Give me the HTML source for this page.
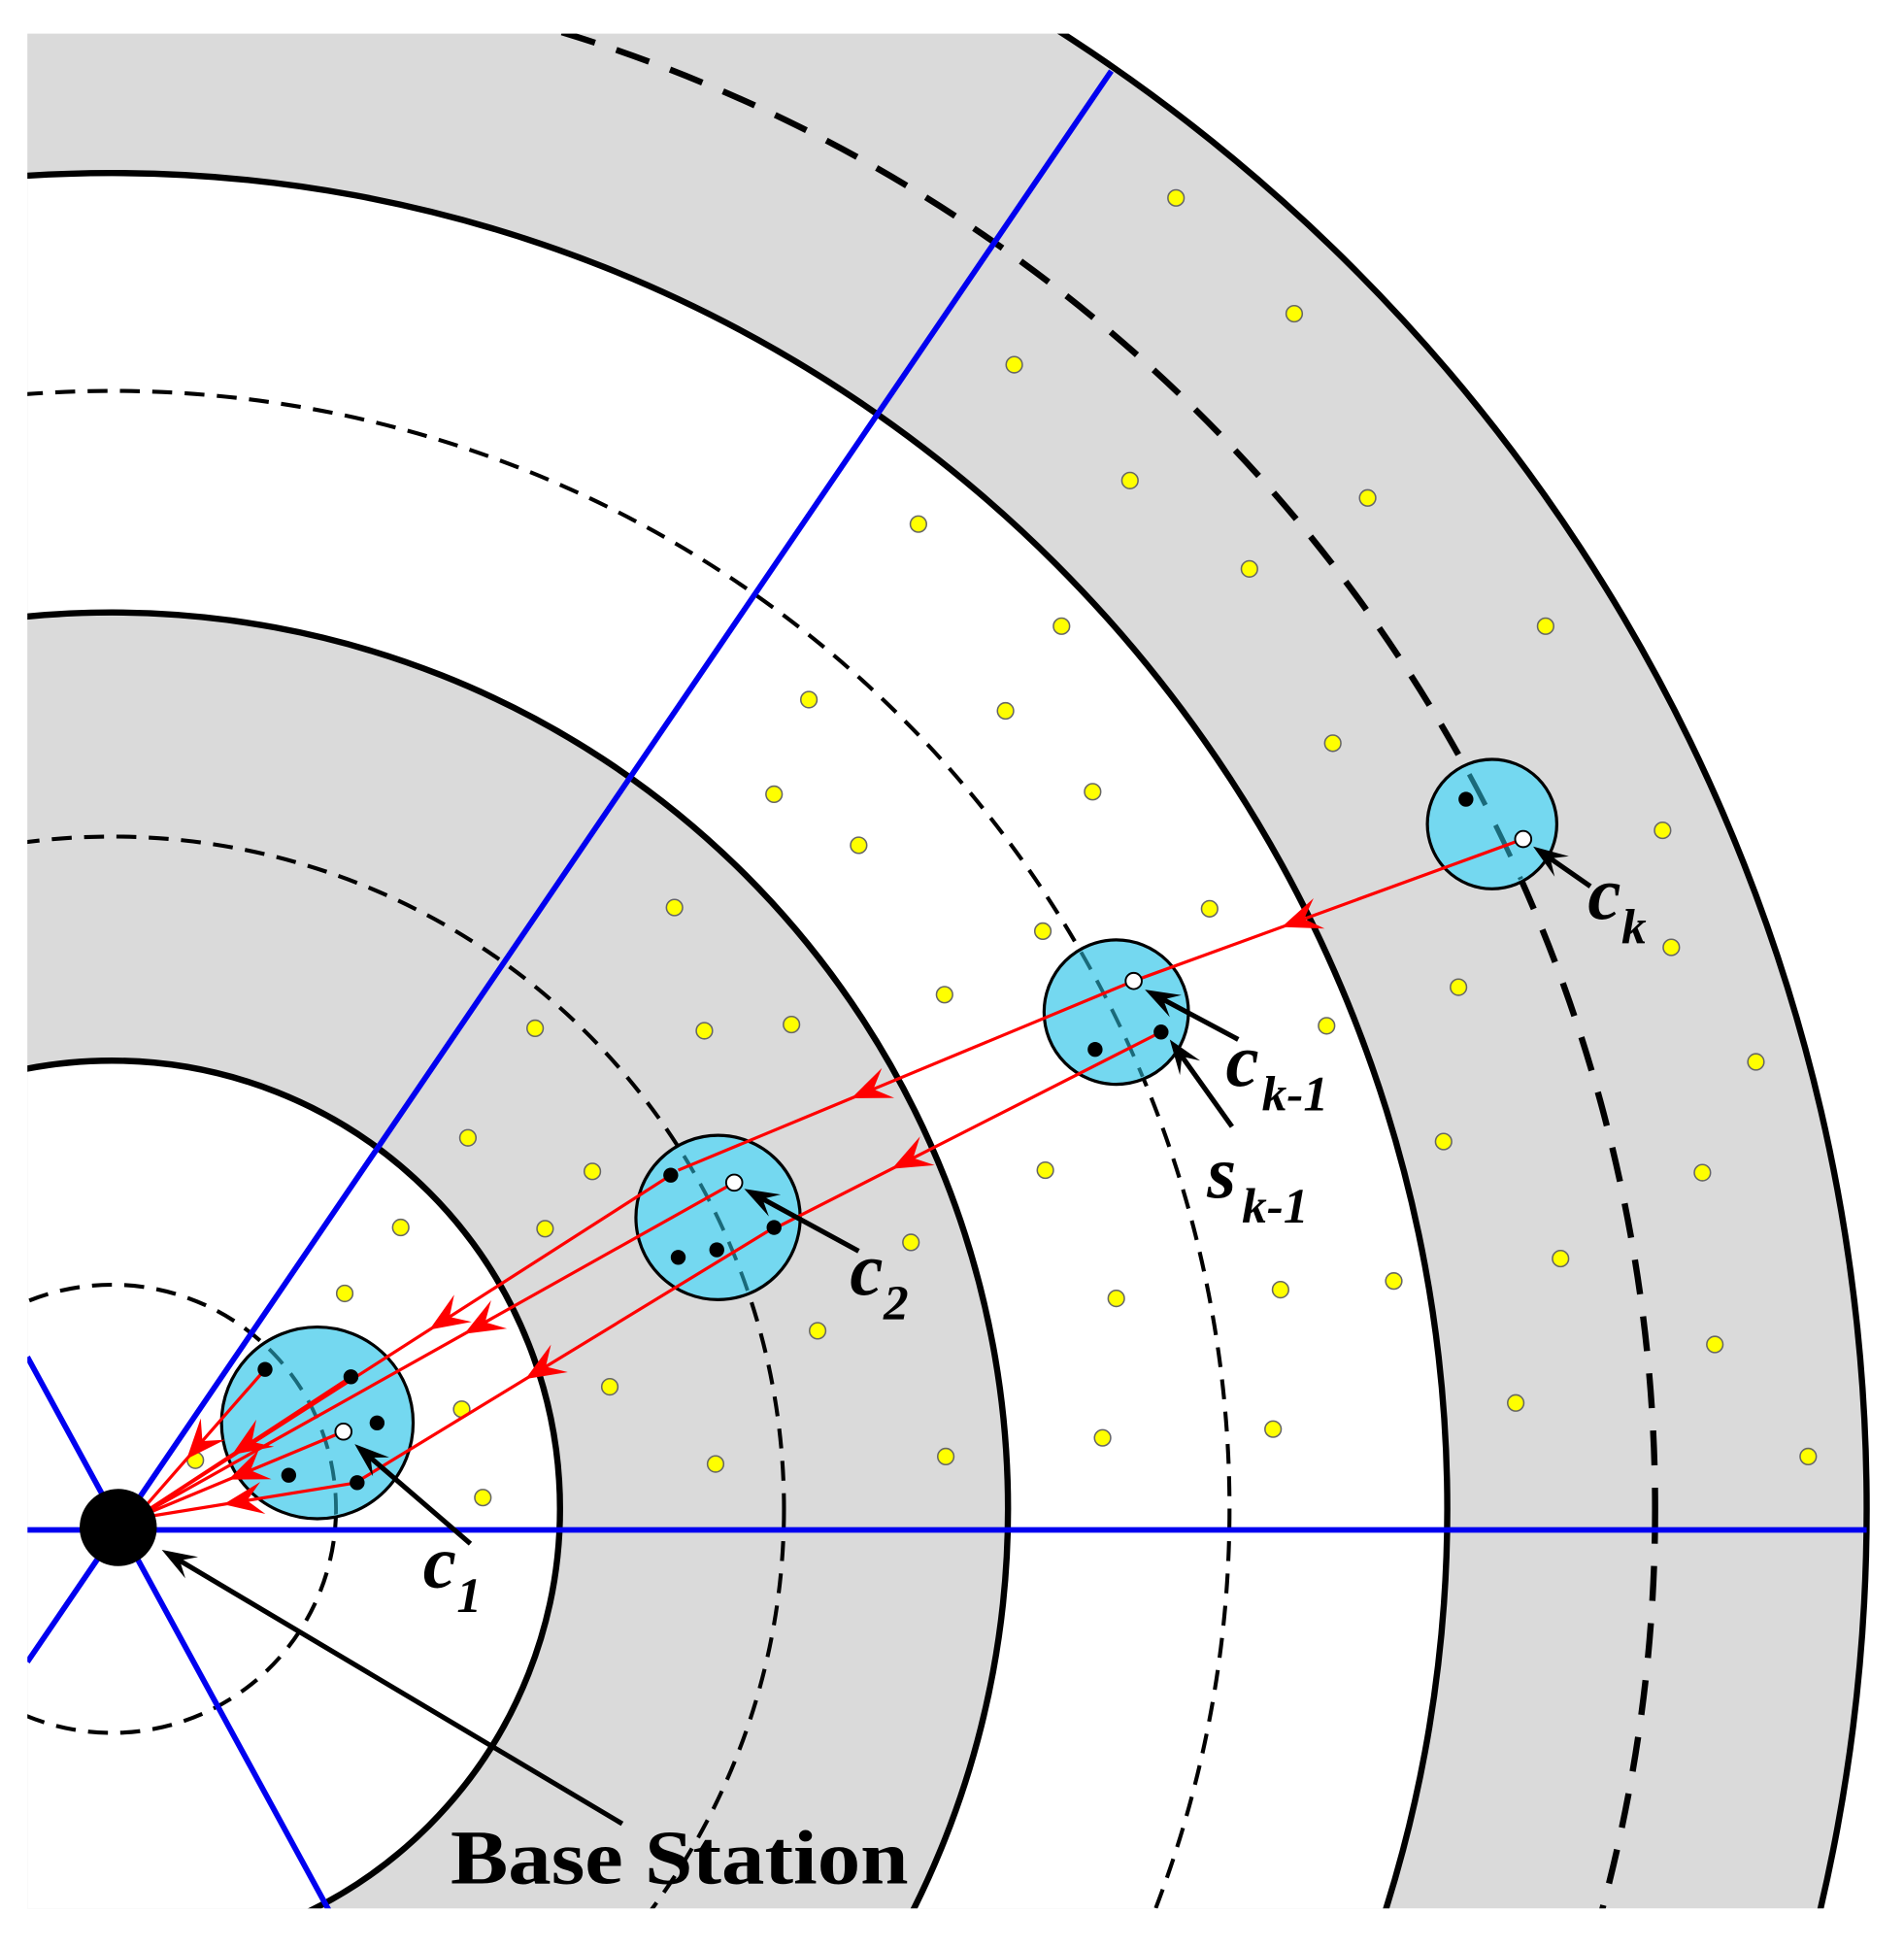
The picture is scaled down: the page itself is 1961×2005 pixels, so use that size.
<!DOCTYPE html>
<html><head><meta charset="utf-8"><style>
html,body{margin:0;padding:0;background:#fff;width:1961px;height:2005px;overflow:hidden;}
svg{display:block;}
text{font-family:"Liberation Serif","Times New Roman",serif;font-weight:bold;fill:#000;}
</style></head><body>
<svg id="s" width="1961" height="2005" viewBox="0 0 1530 1564" preserveAspectRatio="none" xmlns="http://www.w3.org/2000/svg">
<defs><clipPath id="cp"><rect x="22" y="27" width="1508" height="1506"/></clipPath>
<clipPath id="cc"><circle cx="255" cy="1143" r="75"/><circle cx="577" cy="978" r="64"/><circle cx="897" cy="813" r="56"/><circle cx="1199" cy="662" r="50"/></clipPath></defs>
<g clip-path="url(#cp)">
<circle cx="90" cy="1212" r="1410" fill="#dadada"/>
<circle cx="90" cy="1212" r="1073" fill="#fff"/>
<circle cx="90" cy="1212" r="720" fill="#dadada"/>
<circle cx="90" cy="1212" r="360" fill="#fff"/>
<g fill="none" stroke="#000">
<circle cx="90" cy="1212" r="180" stroke-width="3.2" stroke-dasharray="16 10"/>
<circle cx="90" cy="1212" r="540" stroke-width="3.2" stroke-dasharray="16 10"/>
<circle cx="90" cy="1212" r="898" stroke-width="3.2" stroke-dasharray="16 10"/>
<circle cx="90" cy="1212" r="1240" stroke-width="5" stroke-dasharray="28 18"/>
<circle cx="90" cy="1212" r="360" stroke-width="5"/>
<circle cx="90" cy="1212" r="720" stroke-width="5"/>
<circle cx="90" cy="1212" r="1073" stroke-width="5"/>
<circle cx="90" cy="1212" r="1410" stroke-width="5"/>
</g>
<g stroke="#0000f0" stroke-width="4.5">
<line x1="22" y1="1229" x2="1500" y2="1229"/>
<line x1="95" y1="1228" x2="893" y2="57"/>
<line x1="22" y1="1090" x2="270" y2="1545"/>
<line x1="22" y1="1335" x2="95" y2="1228"/>
</g>
</g>
<g id="dots"></g>
<g fill="#74d8f0" stroke="#000" stroke-width="2.5">
<circle cx="255" cy="1143" r="77"/>
<circle cx="577" cy="978" r="66"/>
<circle cx="897" cy="813" r="58"/>
<circle cx="1199" cy="662" r="52"/>
</g>
<g stroke="#1a6a7a" stroke-width="3" fill="none" clip-path="url(#cc)">
<circle cx="90" cy="1212" r="180" stroke-dasharray="16 10"/>
<circle cx="90" cy="1212" r="540" stroke-dasharray="16 10"/>
<circle cx="90" cy="1212" r="898" stroke-dasharray="16 10"/>
<circle cx="90" cy="1212" r="1240" stroke-width="4" stroke-dasharray="28 18"/>
</g>
<g id="red" stroke="#f00" stroke-width="2.5" fill="#f00"></g>
<g fill="#000">
<circle cx="213" cy="1100" r="6"/><circle cx="282" cy="1106" r="6"/><circle cx="303" cy="1143" r="6"/><circle cx="232" cy="1185" r="6"/><circle cx="287" cy="1191" r="6"/>
<circle cx="539" cy="944" r="6"/><circle cx="622" cy="986" r="6"/><circle cx="545" cy="1010" r="6"/><circle cx="576" cy="1004" r="6"/>
<circle cx="933" cy="829" r="6"/><circle cx="880" cy="843" r="6"/><circle cx="1178" cy="642" r="6"/>
</g>
<g fill="#fff" stroke="#000" stroke-width="1.5">
<circle cx="276" cy="1150" r="6.5"/><circle cx="590" cy="950" r="6.5"/><circle cx="911" cy="788" r="6.5"/><circle cx="1224" cy="674" r="6.5"/>
</g>
<circle cx="95" cy="1227" r="31" fill="#000"/>
<g id="blk" stroke="#000" stroke-width="4" fill="#000"></g>
<text x="1276" y="738" font-size="60" font-style="italic">c</text><text x="1303" y="758" font-size="40" font-style="italic">k</text>
<text x="985" y="872" font-size="60" font-style="italic">c</text><text x="1014" y="892" font-size="40" font-style="italic">k-1</text>
<text x="970" y="962" font-size="60" font-style="italic">s</text><text x="998" y="982" font-size="40" font-style="italic">k-1</text>
<text x="683" y="1040" font-size="60" font-style="italic">c</text><text x="710" y="1060" font-size="40" font-style="italic">2</text>
<text x="340" y="1275" font-size="60" font-style="italic">c</text><text x="367" y="1295" font-size="40" font-style="italic">1</text>
<text x="362" y="1513" font-size="62" textLength="368" lengthAdjust="spacingAndGlyphs">Base Station</text>
</svg>
<script>
var NS="http://www.w3.org/2000/svg";
function el(p,t,a){var e=document.createElementNS(NS,t);for(var k in a)e.setAttribute(k,a[k]);p.appendChild(e);return e;}
var Y=[[945,159],[1040,252],[815,293],[908,386],[1099,400],[738,421],[1004,457],[853,503],[1242,503],[650,562],[808,571],[1071,597],[622,638],[878,636],[690,679],[1336,667],[542,729],[972,730],[838,748],[1343,761],[759,799],[430,826],[566,828],[636,823],[1066,824],[1172,793],[1411,853],[376,914],[476,941],[840,940],[1160,917],[1368,942],[322,986],[438,987],[732,998],[277,1039],[897,1043],[1029,1036],[1120,1029],[1254,1011],[657,1069],[1378,1080],[490,1114],[371,1132],[1218,1127],[157,1173],[575,1176],[760,1170],[886,1155],[1023,1148],[1453,1170],[388,1203]];
var dg=document.getElementById("dots");
Y.forEach(function(p){el(dg,"circle",{cx:p[0],cy:p[1],r:6.5,fill:"#ffff00",stroke:"#666","stroke-width":1.2});});
function head(g,x1,y1,x2,y2,t,len,w,col){
 var dx=x2-x1,dy=y2-y1,L=Math.hypot(dx,dy);dx/=L;dy/=L;
 var px=x1+(x2-x1)*t,py=y1+(y2-y1)*t,nx=-dy,ny=dx;
 var bx=px-dx*len,by=py-dy*len,mx=px-dx*len*0.6,my=py-dy*len*0.6;
 el(g,"polygon",{points:px+","+py+" "+(bx+nx*w)+","+(by+ny*w)+" "+mx+","+my+" "+(bx-nx*w)+","+(by-ny*w),fill:col,stroke:"none"});
}
var R=document.getElementById("red");
var BS=[108,1220];
var reds=[[1224,674,911,788,0.62],[911,788,545,940,0.62],[933,829,624,986,0.7],[622,986,289,1189,0.6],
 [539,944,BS[0],BS[1],0.45],[590,950,BS[0],BS[1],0.45],[213,1100,BS[0],BS[1],0.6],[282,1106,BS[0],BS[1],0.55],[276,1150,BS[0],BS[1],0.55],[287,1191,BS[0],BS[1],0.6]];
reds.forEach(function(r){el(R,"line",{x1:r[0],y1:r[1],x2:r[2],y2:r[3]});head(R,r[0],r[1],r[2],r[3],r[4],32,13,"#f00");});
var B=document.getElementById("blk");
var arr=[[1278,712,1232,680],[995,835,920,795],[990,905,940,835],[690,1005,598,955],[378,1240,285,1160],[500,1465,130,1245]];
arr.forEach(function(a){var dx=a[2]-a[0],dy=a[3]-a[1],L=Math.hypot(dx,dy);
 el(B,"line",{x1:a[0],y1:a[1],x2:a[2]-dx/L*8,y2:a[3]-dy/L*8});head(B,a[0],a[1],a[2],a[3],1,28,10,"#000");});
</script>
</body></html>
